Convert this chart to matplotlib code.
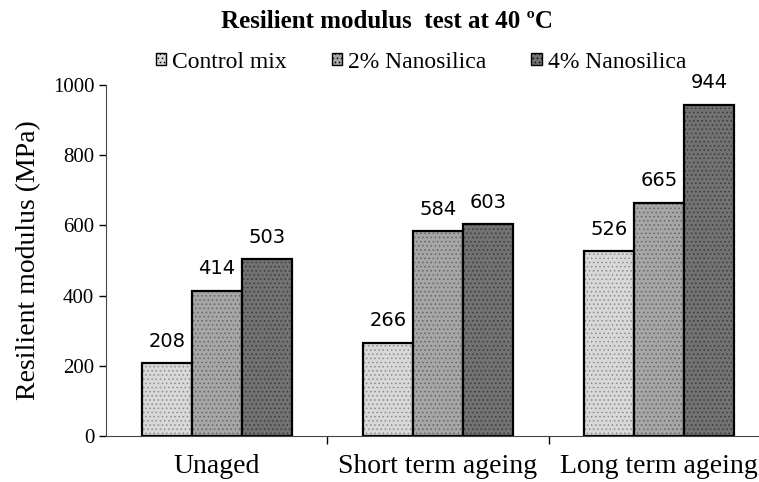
import numpy as np
import matplotlib.pyplot as plt
from matplotlib.colors import to_rgba
from matplotlib.patches import Patch

categories = ['Unaged', 'Short term ageing', 'Long term ageing']
series_names = ['Control mix', '2% Nanosilica', '4% Nanosilica']
control = [208, 266, 526]
nano2 = [414, 584, 665]
nano4 = [503, 603, 944]
yticks = [0, 200, 400, 600, 800, 1000]

colors = ['#d8d8d8', '#a6a6a6', '#727272']
hatch_cols = ['#8e8e8e', '#666666', '#3a3a3a']

plt.rcParams['hatch.linewidth'] = 0.6
serif = 'Liberation Serif'

fig = plt.figure(figsize=(7.59, 4.82), dpi=100)
ax = fig.add_axes([106/759, 46/482, 664/759, 351/482])

x = np.arange(len(categories))
w = 0.226
values = [control, nano2, nano4]
for i, vals in enumerate(values):
    pos = x + (i - 1) * w
    bars = ax.bar(pos, vals, w, color=colors[i], edgecolor='black', linewidth=1.6,
                  hatch='....', zorder=2)
    for b in bars:
        b._hatch_color = to_rgba(hatch_cols[i])
    for p, v in zip(pos, vals):
        ax.text(p, v + 35, str(v), ha='center', va='bottom', fontsize=14,
                family='DejaVu Sans')

ax.set_xlim(-0.5, 2.5)
ax.set_ylim(0, 1000)
ax.set_yticks(yticks)
ax.set_yticklabels([str(t) for t in yticks], family=serif, fontsize=15)
ax.set_xticks(x)
ax.set_xticklabels(categories, family=serif, fontsize=20)
ax.set_xticks([0.5, 1.5], minor=True)
ax.tick_params(axis='x', which='major', length=0, pad=13)
ax.tick_params(axis='x', which='minor', length=6, direction='out', width=1)
ax.tick_params(axis='y', length=5, direction='out', width=1)
ax.spines['top'].set_visible(False)
ax.spines['right'].set_visible(False)
ax.spines['left'].set_color('#444444')
ax.spines['bottom'].set_color('#444444')

ax.set_ylabel('Resilient modulus (MPa)', family=serif, fontsize=20, labelpad=8)

fig.text(387/759, 1 - 22/482, 'Resilient modulus  test at 40 ºC', ha='center', va='center',
         family=serif, fontsize=18, fontweight='bold')

handles = [Patch(facecolor=colors[i], edgecolor='black', hatch='....', linewidth=1)
           for i in range(3)]
fig.legend(handles, series_names, loc='center', bbox_to_anchor=(421/759, 1 - 62/482),
           ncol=3, frameon=False, handlelength=0.45, handleheight=0.45, handletextpad=0.25,
           columnspacing=1.9, prop={'family': serif, 'size': 17})

fig.savefig('out.png', dpi=100)
